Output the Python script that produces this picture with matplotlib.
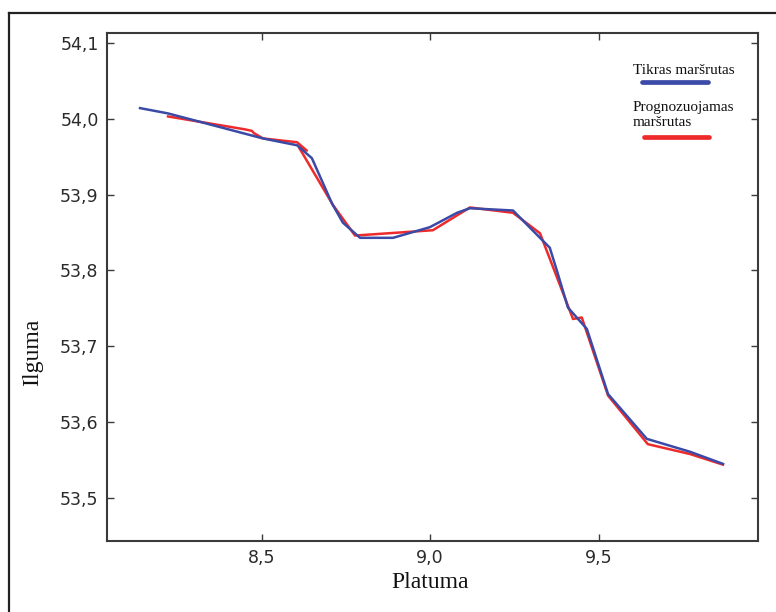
import matplotlib
matplotlib.use("Agg")
import matplotlib.pyplot as plt
from matplotlib.ticker import FuncFormatter
from matplotlib.lines import Line2D

# True route (Tikras maršrutas)
true_x = [8.139, 8.222, 8.504, 8.605, 8.649, 8.709, 8.741, 8.792, 8.890, 8.999,
          9.080, 9.118, 9.246, 9.326, 9.355, 9.376, 9.409, 9.465, 9.528, 9.643,
          9.771, 9.869]
true_y = [54.014, 54.007, 53.974, 53.965, 53.948, 53.888, 53.863, 53.843, 53.843, 53.857,
          53.876, 53.882, 53.879, 53.843, 53.830, 53.800, 53.751, 53.723, 53.637, 53.578,
          53.561, 53.545]

# Predicted route (Prognozuojamas maršrutas)
pred_x = [8.222, 8.450, 8.471, 8.477, 8.504, 8.605, 8.634, 8.611, 8.712, 8.777,
          9.008, 9.118, 9.246, 9.326, 9.424, 9.450, 9.528, 9.646, 9.771, 9.869]
pred_y = [54.003, 53.986, 53.984, 53.981, 53.974, 53.969, 53.958, 53.962, 53.886, 53.846,
          53.853, 53.883, 53.876, 53.849, 53.736, 53.738, 53.635, 53.571, 53.558, 53.544]

x_ticks = [8.5, 9.0, 9.5]
y_ticks = [53.5, 53.6, 53.7, 53.8, 53.9, 54.0, 54.1]

label_true = "Tikras maršrutas"
label_pred = "Prognozuojamas\nmaršrutas"
xlabel = "Platuma"
ylabel = "Ilguma"

BLUE = "#3a4aa6"
RED = "#ee2b2b"
SPINE = "#3a3a3a"

plt.rcParams['font.family'] = ['DejaVu Sans']

fig = plt.figure(figsize=(7.76, 6.12), dpi=100)
fig.patch.set_facecolor("white")
ax = fig.add_axes([107/776, 1-540.5/612, (758-107)/776, (540.5-33)/612])

ax.plot(true_x, true_y, color=BLUE, lw=1.8, zorder=3)
ax.plot(pred_x, pred_y, color=RED, lw=1.8, zorder=2)

ax.set_xlim(8.041, 9.973)
ax.set_ylim(53.444, 54.113)
ax.set_xticks(x_ticks)
ax.set_yticks(y_ticks)
fmt = FuncFormatter(lambda v, p: f"{v:.1f}".replace(".", ","))
ax.xaxis.set_major_formatter(fmt)
ax.yaxis.set_major_formatter(fmt)
ax.tick_params(direction="in", length=5, width=1.0, color=SPINE,
               top=True, right=True, labelsize=12.5, labelcolor="#2a2a2a", pad=6)
for lab in ax.get_xticklabels() + ax.get_yticklabels():
    lab.set_family("DejaVu Sans")
for s in ax.spines.values():
    s.set_color(SPINE)
    s.set_linewidth(1.5)

serif = ["Liberation Serif", "DejaVu Serif"]
fig.text(430/776, 1-582/612, xlabel, ha="center", va="center",
         fontsize=17, family=serif, color="#111111")
fig.text(33/776, 1-352/612, ylabel, ha="center", va="center", rotation=90,
         fontsize=17, family=serif, color="#111111")

# custom legend
def fx(px):
    return ax.transAxes.inverted().transform(fig.transFigure.transform((px/776, 0)))[0]
def fy(py):
    return ax.transAxes.inverted().transform(fig.transFigure.transform((0, 1-py/612)))[1]

ax.text(fx(633), fy(71), label_true, transform=ax.transAxes, ha="left", va="center",
        fontsize=11, family=serif, color="#111111")
ax.plot([fx(642), fx(708)], [fy(82), fy(82)], transform=ax.transAxes,
        color=BLUE, lw=3.4, solid_capstyle="round")
ax.text(fx(633), fy(115), label_pred, transform=ax.transAxes, ha="left", va="center",
        fontsize=11, family=serif, color="#111111", linespacing=1.2)
ax.plot([fx(644), fx(709)], [fy(137), fy(137)], transform=ax.transAxes,
        color=RED, lw=3.4, solid_capstyle="round")

# outer frame (left and top edges visible)
fig.add_artist(Line2D([8.5/776, 8.5/776], [0, 1-13/612], transform=fig.transFigure,
                      color="#222222", lw=1.6))
fig.add_artist(Line2D([8.5/776, 1], [1-13/612, 1-13/612], transform=fig.transFigure,
                      color="#222222", lw=1.6))

fig.savefig("out.png", dpi=100, facecolor="white")
